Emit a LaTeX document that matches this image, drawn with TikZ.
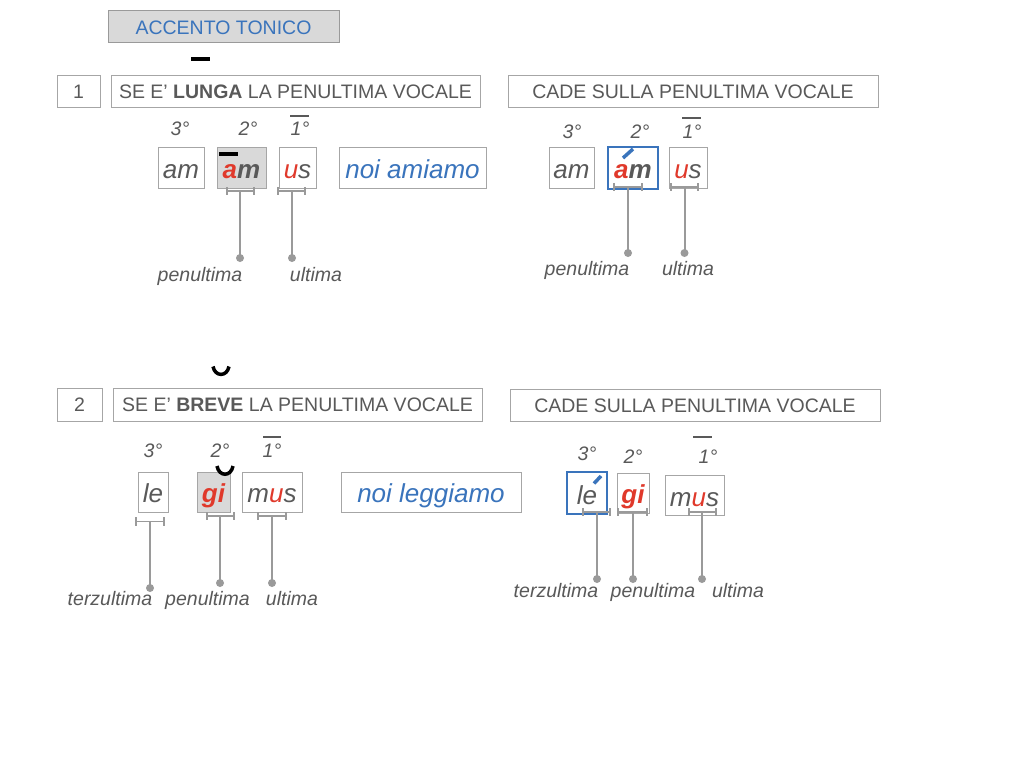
\documentclass[tikz,border=0pt]{standalone}
\usepackage{fontspec}
\setmainfont{Liberation Sans}
\definecolor{textgray}{HTML}{595959}
\definecolor{bordergray}{HTML}{A6A6A6}
\definecolor{fillgray}{HTML}{D9D9D9}
\definecolor{linegray}{HTML}{9A9A9A}
\definecolor{accred}{HTML}{E0392B}
\definecolor{accblue}{HTML}{3A74BC}
\newcommand\hdrfont{\fontsize{19.5}{22}\selectfont}
\newcommand\sylfont{\fontsize{26}{30}\selectfont\itshape}
\newcommand\lblfont{\fontsize{19.5}{22}\selectfont\itshape}
\newcommand\rd[1]{\textcolor{accred}{#1}}
\tikzset{
  box/.style={draw=bordergray, line width=1pt, inner sep=0pt, text=textgray},
  hdrbox/.style={box, font=\hdrfont, text height=14pt, text depth=0pt},
  sylbox/.style={box, font=\sylfont},
  bluebox/.style={sylbox, draw=accblue, line width=2pt},
  graybox/.style={sylbox, fill=fillgray},
  lbl/.style={font=\lblfont, text=textgray, inner sep=0pt, anchor=base},
  conn/.style={draw=linegray, line width=2pt},
  brk/.style={draw=linegray, line width=1.6pt},
  dotnode/.style={circle, fill=linegray, inner sep=0pt, minimum size=8pt},
  ovl/.style={draw=textgray, line width=1.3pt},
  macron/.style={draw=black, line width=4pt},
  brevemark/.style={draw=black, line width=3.5pt},
  acute/.style={draw=accblue, line width=3.5pt}
}
\begin{document}
\begin{tikzpicture}[x=1pt,y=-1pt]
\useasboundingbox[fill=white] (0,0) rectangle (1024,768);

% title
\node[box, draw=linegray, fill=fillgray, font=\hdrfont, text=accblue, minimum width=231pt, minimum height=32pt, text height=15pt, text depth=0pt] (title) at (223.5,27) {ACCENTO TONICO};
\draw[macron] (191,59) -- (210,59);

% ---------- row 1 ----------
\node[hdrbox, minimum width=43pt, minimum height=32pt] (n1) at (78.5,91) {1};
\node[hdrbox, minimum width=369pt, minimum height=32pt] (h1) at (295.5,91) {SE E’ \textbf{LUNGA} LA PENULTIMA VOCALE};
\node[hdrbox, minimum width=370pt, minimum height=32pt] (c1) at (693,91) {CADE SULLA PENULTIMA VOCALE};

% left
\node[lbl] (o3a) at (180,135) {3°};
\node[lbl] (o2a) at (248,135) {2°};
\node[lbl] (o1a) at (300,135) {1°};
\draw[ovl] (290,116) -- (309,116);
\node[sylbox, minimum width=46pt, minimum height=41pt, text height=21pt, text depth=0pt] (s1a) at (181,167.5) {am};
\node[graybox, minimum width=49pt, minimum height=41pt, text height=21pt, text depth=0pt] (s2a) at (241.5,167.5) {\bfseries\rd{a}m};
\draw[macron] (219,154) -- (238,154);
\node[sylbox, minimum width=37pt, minimum height=41pt, text height=21pt, text depth=0pt] (s3a) at (297.5,167.5) {\rd{u}s};
\node[sylbox, text=accblue, minimum width=147pt, minimum height=41pt, text height=21pt, text depth=0pt] (ex1) at (412.5,167.5) {noi amiamo};

\draw[brk] (227,187) -- (227,195) (227,191) -- (254,191) (254,187) -- (254,195);
\coordinate (b1) at (240,191);
\node[dotnode] (d1) at (240,258) {};
\draw[conn] (b1) -- (d1.center);
\draw[brk] (278,187) -- (278,195) (278,191) -- (305,191) (305,187) -- (305,195);
\coordinate (b2) at (292,191);
\node[dotnode] (d2) at (292,258) {};
\draw[conn] (b2) -- (d2.center);
\node[lbl] (l1) at (200,281) {penultima};
\node[lbl] (l2) at (316,281) {ultima};

% right
\node[lbl] (o3b) at (572,138) {3°};
\node[lbl] (o2b) at (640,138) {2°};
\node[lbl] (o1b) at (692,138) {1°};
\draw[ovl] (682,118) -- (701,118);
\node[sylbox, minimum width=45pt, minimum height=41pt, text height=21pt, text depth=0pt] (s1b) at (571.5,167.5) {am};
\node[bluebox, minimum width=50pt, minimum height=42pt, text height=20pt, text depth=0pt] (s2b) at (633,168) {\bfseries\rd{a}m};
\draw[acute] (623,158) -- (633,149);
\node[sylbox, minimum width=38pt, minimum height=41pt, text height=21pt, text depth=0pt] (s3b) at (688,167.5) {\rd{u}s};

\draw[brk] (614,183) -- (614,191) (614,187) -- (642,187) (642,183) -- (642,191);
\coordinate (b3) at (628,187);
\node[dotnode] (d3) at (628,253) {};
\draw[conn] (b3) -- (d3.center);
\draw[brk] (671,183) -- (671,191) (671,187) -- (698,187) (698,183) -- (698,191);
\coordinate (b4) at (684.5,187);
\node[dotnode] (d4) at (684.5,253) {};
\draw[conn] (b4) -- (d4.center);
\node[lbl] (l3) at (587,275) {penultima};
\node[lbl] (l4) at (688,275) {ultima};

% ---------- row 2 ----------
\draw[brevemark] (213,366.5) .. controls (215,377) and (227,377) .. (229,366.5);
\node[hdrbox, minimum width=45pt, minimum height=33pt] (n2) at (79.5,404.5) {2};
\node[hdrbox, minimum width=369pt, minimum height=33pt] (h2) at (297.5,404.5) {SE E’ \textbf{BREVE} LA PENULTIMA VOCALE};
\node[hdrbox, minimum width=370pt, minimum height=32pt] (c2) at (695,405) {CADE SULLA PENULTIMA VOCALE};

% left
\node[lbl] (o3c) at (153,457) {3°};
\node[lbl] (o2c) at (220,457) {2°};
\node[lbl] (o1c) at (272,457) {1°};
\draw[ovl] (263,437) -- (281,437);
\node[sylbox, minimum width=30pt, minimum height=40pt, text height=20pt, text depth=0pt] (s1c) at (153,492) {le};
\node[graybox, minimum width=33pt, minimum height=40pt, text height=20pt, text depth=0pt] (s2c) at (213.5,492) {\bfseries\rd{gi}};
\draw[brevemark] (217,466) .. controls (219,477) and (231,477) .. (233,466);
\node[sylbox, minimum width=60pt, minimum height=40pt, text height=20pt, text depth=0pt] (s3c) at (272,492) {m\rd{u}s};
\node[sylbox, text=accblue, minimum width=180pt, minimum height=40pt, text height=20pt, text depth=0pt] (ex2) at (431,492) {noi leggiamo};

\draw[brk] (136,517) -- (136,526) (136,521.5) -- (164,521.5) (164,517) -- (164,526);
\coordinate (b5) at (150,521.5);
\node[dotnode] (d5) at (150,588) {};
\draw[conn] (b5) -- (d5.center);
\draw[brk] (207,512) -- (207,520) (207,516) -- (234,516) (234,512) -- (234,520);
\coordinate (b6) at (220,516);
\node[dotnode] (d6) at (220,583) {};
\draw[conn] (b6) -- (d6.center);
\draw[brk] (258,512) -- (258,520) (258,516) -- (286,516) (286,512) -- (286,520);
\coordinate (b7) at (272,516);
\node[dotnode] (d7) at (272,583) {};
\draw[conn] (b7) -- (d7.center);
\node[lbl] (l5) at (110,605) {terzultima};
\node[lbl] (l6) at (207.5,605) {penultima};
\node[lbl] (l7) at (292,605) {ultima};

% right
\node[lbl] (o3d) at (587,460) {3°};
\node[lbl] (o2d) at (633,463) {2°};
\node[lbl] (o1d) at (708,463) {1°};
\draw[ovl] (693,437) -- (712,437);
\node[bluebox, minimum width=40pt, minimum height=42pt, text height=22pt, text depth=0pt] (s1d) at (587,493) {le};
\draw[acute] (594,483.5) -- (601,476);
\node[sylbox, minimum width=32pt, minimum height=40pt, text height=20pt, text depth=0pt] (s2d) at (633,493) {\bfseries\rd{gi}};
\node[sylbox, minimum width=59pt, minimum height=40pt, text height=22pt, text depth=0pt] (s3d) at (694.5,495) {m\rd{u}s};

\draw[brk] (583,508) -- (583,516) (583,512) -- (610,512) (610,508) -- (610,516);
\coordinate (b8) at (597,512);
\node[dotnode] (d8) at (597,579) {};
\draw[conn] (b8) -- (d8.center);
\draw[brk] (618,508) -- (618,516) (618,512) -- (647,512) (647,508) -- (647,516);
\coordinate (b9) at (633,512);
\node[dotnode] (d9) at (633,579) {};
\draw[conn] (b9) -- (d9.center);
\draw[brk] (689,508) -- (689,516) (689,512) -- (716,512) (716,508) -- (716,516);
\coordinate (b10) at (702,512);
\node[dotnode] (d10) at (702,579) {};
\draw[conn] (b10) -- (d10.center);
\node[lbl] (l8) at (556,597) {terzultima};
\node[lbl] (l9) at (653,597) {penultima};
\node[lbl] (l10) at (738,597) {ultima};
\end{tikzpicture}
\end{document}
